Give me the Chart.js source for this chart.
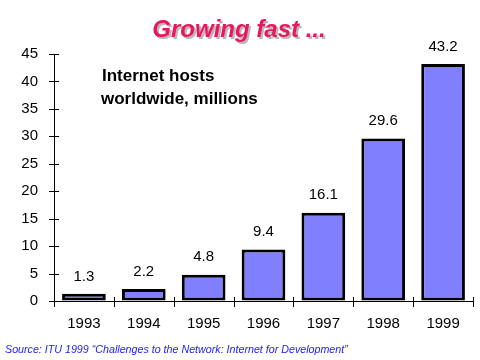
<!DOCTYPE html>
<html><head><meta charset="utf-8">
<script src="https://cdn.jsdelivr.net/npm/chart.js@4/dist/chart.umd.min.js"></script>
<style>html,body{margin:0;padding:0;background:#fff;}canvas{display:block;}</style>
</head><body>
<canvas id="c" width="480" height="360"></canvas>
<script>
const years = ["1993","1994","1995","1996","1997","1998","1999"];
const hosts = [1.3, 2.2, 4.8, 9.4, 16.1, 29.6, 43.2];
const valueLabels = ["1.3","2.2","4.8","9.4","16.1","29.6","43.2"];
const titleText = "Growing fast ...";
const noteLines = ["Internet hosts", "worldwide, millions"];
const sourceText = "Source: ITU 1999 \u201cChallenges to the Network: Internet for Development\u201d";

const FONT = "'Liberation Sans', Arial, sans-serif";

const decor = {
  id: 'decor',
  afterDraw(chart) {
    const ctx = chart.ctx;
    const a = chart.chartArea;
    const x = chart.scales.x, y = chart.scales.y;
    ctx.save();
    // axes
    ctx.strokeStyle = '#000';
    ctx.lineWidth = 1;
    ctx.beginPath();
    ctx.moveTo(Math.round(a.left)+0.5, a.top);
    ctx.lineTo(Math.round(a.left)+0.5, a.bottom);
    ctx.moveTo(a.left, Math.round(a.bottom)+0.5);
    ctx.lineTo(a.right, Math.round(a.bottom)+0.5);
    // y ticks crossing
    y.ticks.forEach(t => {
      const py = Math.round(y.getPixelForValue(t.value)) + 0.5;
      ctx.moveTo(a.left - 5, py);
      ctx.lineTo(a.left + 5, py);
    });
    // x ticks at category boundaries
    for (let i = 0; i <= years.length; i++) {
      const px = Math.round(x.getPixelForValue(i - 0.5)) + 0.5;
      ctx.moveTo(px, a.bottom - 4);
      ctx.lineTo(px, a.bottom + 6);
    }
    ctx.stroke();

    // value labels
    ctx.fillStyle = '#000';
    ctx.font = '15px ' + FONT;
    ctx.textAlign = 'center';
    ctx.textBaseline = 'bottom';
    const meta = chart.getDatasetMeta(0);
    meta.data.forEach((bar, i) => {
      ctx.fillText(valueLabels[i], bar.x, bar.y - 10);
    });

    // note
    ctx.font = 'bold 17px ' + FONT;
    ctx.textAlign = 'left';
    ctx.textBaseline = 'middle';
    ctx.fillText(noteLines[0], 102, 76);
    ctx.fillText(noteLines[1], 101, 99);

    // title with shadow
    ctx.font = 'italic bold 24px ' + FONT;
    ctx.textAlign = 'center';
    ctx.textBaseline = 'middle';
    ctx.fillStyle = '#b8b8b8';
    ctx.fillText(titleText, 241, 32);
    ctx.fillStyle = '#e8185c';
    ctx.fillText(titleText, 239, 30);

    // source
    ctx.font = 'italic 10.7px ' + FONT;
    ctx.fillStyle = '#1a1aff';
    ctx.textAlign = 'left';
    ctx.fillText(sourceText, 5, 350);
    ctx.restore();
  }
};

new Chart(document.getElementById('c'), {
  type: 'bar',
  data: {
    labels: years,
    datasets: [{
      data: hosts,
      backgroundColor: '#8080ff',
      borderColor: '#000',
      borderWidth: 3,
      borderSkipped: false,
      categoryPercentage: 1,
      barPercentage: 0.73
    }]
  },
  options: {
    responsive: false,
    animation: false,
    devicePixelRatio: 1,
    layout: { padding: { left: 0, right: 7, top: 54, bottom: 19 } },
    plugins: { legend: { display: false }, tooltip: { enabled: false }, title: { display: false } },
    scales: {
      x: {
        grid: { display: true, drawOnChartArea: false, drawTicks: false },
        border: { display: false },
        ticks: { color: '#000', font: { family: FONT, size: 15 }, padding: 14, maxRotation: 0 },
        afterFit(s) { s.height = 40; }
      },
      y: {
        min: 0, max: 45,
        grid: { display: true, drawOnChartArea: false, drawTicks: false },
        border: { display: false },
        ticks: { stepSize: 5, color: '#000', font: { family: FONT, size: 15 }, padding: 16 },
        afterFit(s) { s.width = 54; }
      }
    }
  },
  plugins: [decor]
});
</script>
</body></html>
